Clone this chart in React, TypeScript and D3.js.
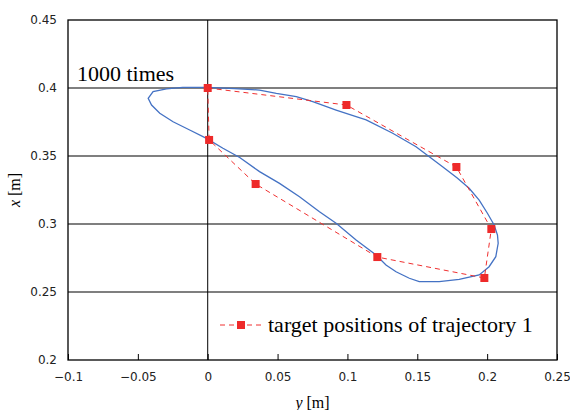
import * as d3 from 'd3';
import { useRef, useEffect } from 'react';

// target positions (y [m], x [m]) — closed loop
const targetY = [0, 0.0993, 0.178, 0.203, 0.198, 0.1214, 0.0343, 0.001, 0];
const targetX = [0.4, 0.3875, 0.3419, 0.2963, 0.2603, 0.2757, 0.3294, 0.3618, 0.4];

// trajectory after 1000 trials
const trajY = [
  0, -0.0179, -0.0295, -0.0391, -0.0426, -0.0402, -0.0343, -0.0248, -0.0129, -0.0009,
  0.0109, 0.0229, 0.0371, 0.0514, 0.0657, 0.08, 0.0919, 0.1062, 0.1205, 0.1276,
  0.1348, 0.1443, 0.1514, 0.1657, 0.18, 0.1943, 0.2014, 0.2062, 0.2079, 0.2074,
  0.205, 0.2002, 0.1943, 0.1871, 0.1786, 0.1681, 0.1586, 0.1491, 0.1324, 0.1134,
  0.1062, 0.0919, 0.0752, 0.0634, 0.0491, 0.0371, 0.0193, 0,
];
const trajX = [
  0.4004, 0.4005, 0.3993, 0.3973, 0.3924, 0.3875, 0.3814, 0.3752, 0.3691, 0.363,
  0.3557, 0.3489, 0.3385, 0.3299, 0.3201, 0.309, 0.3005, 0.2882, 0.2772, 0.2699,
  0.2649, 0.2601, 0.2576, 0.2576, 0.2593, 0.2625, 0.2686, 0.276, 0.2858, 0.2919,
  0.2993, 0.3079, 0.3176, 0.3263, 0.3338, 0.3421, 0.3495, 0.3568, 0.3667, 0.3765,
  0.3789, 0.3838, 0.3899, 0.3936, 0.3961, 0.3985, 0.3996, 0.4004,
];

const xTicks = [-0.1, -0.05, 0, 0.05, 0.1, 0.15, 0.2, 0.25];
const yTicks = [0.2, 0.25, 0.3, 0.35, 0.4, 0.45];

const App = () => {
  const ref = useRef<SVGSVGElement>(null);
  const width = 570;
  const height = 410;
  const margin = { top: 20, right: 13, bottom: 50, left: 68 };

  useEffect(() => {
    const svg = d3.select(ref.current);
    svg.selectAll('*').remove();

    const w = width - margin.left - margin.right;
    const h = height - margin.top - margin.bottom;

    const x = d3.scaleLinear().domain([-0.1, 0.25]).range([0, w]);
    const y = d3.scaleLinear().domain([0.2, 0.45]).range([h, 0]);

    svg.append('rect').attr('width', width).attr('height', height).attr('fill', '#fff');

    const g = svg.append('g').attr('transform', `translate(${margin.left},${margin.top})`);

    // horizontal grid lines
    g.append('g')
      .selectAll('line')
      .data(yTicks.filter((d) => d > 0.2 && d < 0.45))
      .join('line')
      .attr('x1', 0)
      .attr('x2', w)
      .attr('y1', (d) => y(d))
      .attr('y2', (d) => y(d))
      .attr('stroke', '#000')
      .attr('stroke-width', 1.2);

    // vertical line at zero
    g.append('line')
      .attr('x1', x(0))
      .attr('x2', x(0))
      .attr('y1', 0)
      .attr('y2', h)
      .attr('stroke', '#000')
      .attr('stroke-width', 1);

    // frame
    g.append('rect')
      .attr('width', w)
      .attr('height', h)
      .attr('fill', 'none')
      .attr('stroke', '#000')
      .attr('stroke-width', 1.3);

    // x axis (ticks pointing in)
    const xAxis = g
      .append('g')
      .attr('transform', `translate(0,${h})`)
      .call(d3.axisBottom(x).tickValues(xTicks).tickSizeInner(-6).tickSizeOuter(0).tickPadding(12).tickFormat((d: any) => String(+d.toFixed(2)).replace('-', '\u2212')));
    xAxis.select('.domain').remove();
    xAxis.selectAll('line').attr('stroke', '#000');
    xAxis.selectAll('text').attr('font-family', '"DejaVu Sans", sans-serif').attr('font-size', 12).attr('fill', '#222');

    // y axis
    const yAxis = g
      .append('g')
      .call(d3.axisLeft(y).tickValues(yTicks).tickSize(0).tickPadding(11).tickFormat((d: any) => String(+d.toFixed(2))));
    yAxis.select('.domain').remove();
    yAxis.selectAll('text').attr('font-family', '"DejaVu Sans", sans-serif').attr('font-size', 12).attr('fill', '#222');

    // trajectory
    const line = d3
      .line<number>()
      .x((_, i) => x(trajY[i]))
      .y((_, i) => y(trajX[i]));
    g.append('path')
      .datum(trajY)
      .attr('d', line)
      .attr('fill', 'none')
      .attr('stroke', '#4472C4')
      .attr('stroke-width', 1.3);

    // target positions
    const tline = d3
      .line<number>()
      .x((_, i) => x(targetY[i]))
      .y((_, i) => y(targetX[i]));
    g.append('path')
      .datum(targetY)
      .attr('d', tline)
      .attr('fill', 'none')
      .attr('stroke', '#F03030')
      .attr('stroke-width', 1)
      .attr('stroke-dasharray', '5 4');
    g.selectAll('.sq')
      .data(targetY.slice(0, -1))
      .join('rect')
      .attr('class', 'sq')
      .attr('x', (d) => x(d) - 4)
      .attr('y', (_, i) => y(targetX[i]) - 4)
      .attr('width', 8)
      .attr('height', 8)
      .attr('fill', '#EE2A2A');

    // annotation
    g.append('text')
      .attr('x', 9)
      .attr('y', 61)
      .attr('font-family', '"Liberation Serif", serif')
      .attr('font-size', 22)
      .text('1000 times');

    // legend
    const lg = g.append('g').attr('transform', `translate(${152},${305})`);
    lg.append('line')
      .attr('x1', 0)
      .attr('x2', 42)
      .attr('stroke', '#F03030')
      .attr('stroke-dasharray', '5 4');
    lg.append('rect').attr('x', 17).attr('y', -4).attr('width', 8).attr('height', 8).attr('fill', '#EE2A2A');
    lg.append('text')
      .attr('x', 48)
      .attr('y', 7)
      .attr('font-family', '"Liberation Serif", serif')
      .attr('font-size', 22)
      .text('target positions of trajectory 1');

    // axis titles
    const xt = svg.append('text')
      .attr('x', margin.left + w / 2)
      .attr('y', 408)
      .attr('text-anchor', 'middle')
      .attr('font-family', '"Liberation Serif", serif')
      .attr('font-size', 16);
    xt.append('tspan').attr('font-style', 'italic').text('y');
    xt.append('tspan').text(' [m]');

    const yt = svg.append('text')
      .attr('transform', `translate(20,${margin.top + h / 2}) rotate(-90)`)
      .attr('text-anchor', 'middle')
      .attr('font-family', '"Liberation Serif", serif')
      .attr('font-size', 16);
    yt.append('tspan').attr('font-style', 'italic').text('x');
    yt.append('tspan').text(' [m]');
  }, []);

  return (
    <svg
      ref={ref}
      width={width}
      height={height}
      style={{ position: 'absolute', left: 0, top: 0 }}
    />
  );
};

export default App;
